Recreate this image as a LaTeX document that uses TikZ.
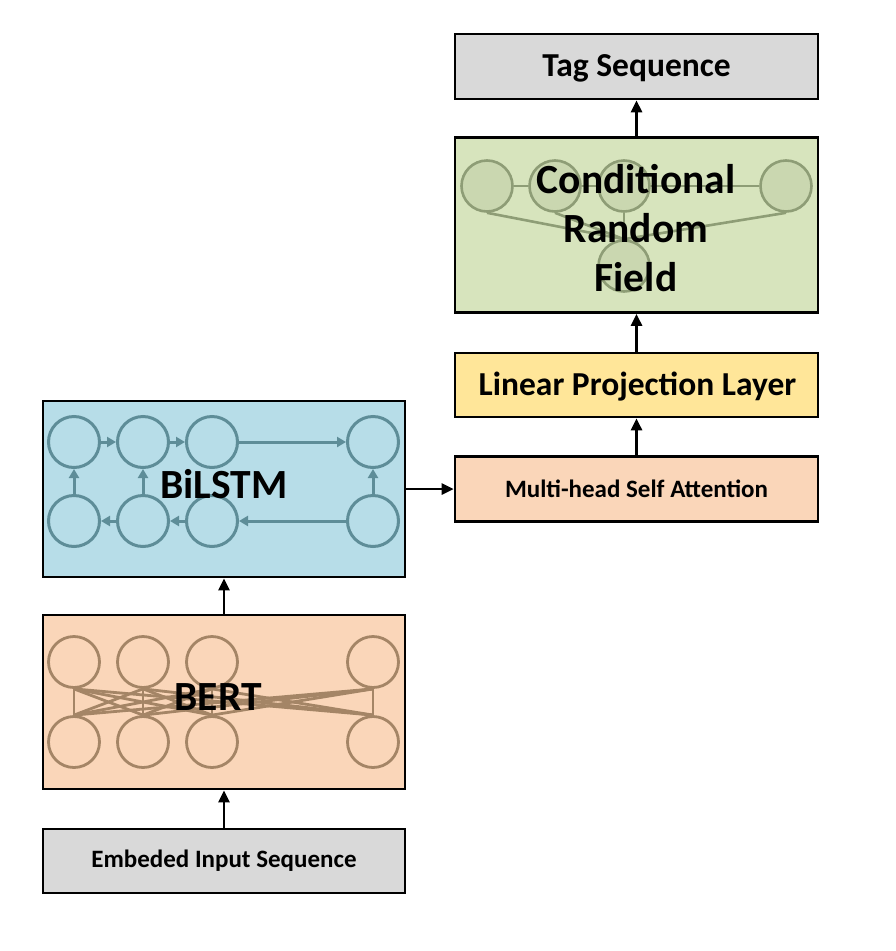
\documentclass[tikz,border=0pt]{standalone}
\usepackage{fontspec}
\setmainfont{Carlito}
\usetikzlibrary{arrows.meta}
\definecolor{greybox}{HTML}{D9D9D9}
\definecolor{yellowbox}{HTML}{FFE699}
\definecolor{peachbox}{HTML}{FAD6B9}
\definecolor{bluebox}{HTML}{B7DDE8}
\definecolor{greenbox}{HTML}{D7E4BD}
\definecolor{lstmline}{HTML}{5E8D98}
\definecolor{bertline}{HTML}{A48566}
\definecolor{crfline}{HTML}{8E9D76}
\definecolor{crffill}{HTML}{C6D3AC}
\tikzset{
  block/.style={draw=black, line width=2.6pt, minimum width=363pt, inner sep=0pt, font=\bfseries},
  flow/.style={line width=2.6pt, -{Triangle[length=12pt,width=11pt]}},
  lstmc/.style={circle, draw=lstmline, line width=3pt, minimum size=51pt, inner sep=0pt},
  lstma/.style={draw=lstmline, line width=3pt, -{Triangle[length=9pt,width=10pt]}, color=lstmline},
  bertc/.style={circle, draw=bertline, line width=2.8pt, minimum size=51pt, inner sep=0pt},
  bertl/.style={draw=bertline, line width=2.8pt},
  crfc/.style={circle, draw=crfline, fill=crffill, fill opacity=0.75, line width=2.6pt, minimum size=51pt, inner sep=0pt},
  crfl/.style={draw=crfline, line width=2.6pt},
  bigtxt/.style={font=\bfseries\fontsize{41.5}{49}\selectfont, align=center, inner sep=0pt}
}
\begin{document}
\begin{tikzpicture}[x=1pt,y=-1pt]
\useasboundingbox (0,0) rectangle (896,951);
% right column
\node[block, fill=greybox, minimum height=65pt] (tag) at (636.5,66.5) {};
\node[font=\bfseries\fontsize{33.5}{40}\selectfont, inner sep=0pt] (tagtxt) at (636.5,68) {Tag Sequence};
\node[block, fill=greenbox, minimum height=175pt] (crf) at (636.5,225) {};
\node[block, fill=yellowbox, minimum height=64pt] (lin) at (636.5,385) {};
\node[font=\bfseries\fontsize{33.5}{40}\selectfont, inner sep=0pt] (lintxt) at (637.5,386.5) {Linear Projection Layer};
\node[block, fill=peachbox, minimum height=65pt, font=\bfseries\fontsize{25}{30}\selectfont] (mha) at (636.5,489) {Multi-head Self Attention};
% left column
\node[block, fill=bluebox, minimum width=362pt, minimum height=176pt] (lstm) at (224,489) {};
\node[block, fill=peachbox, minimum width=362pt, minimum height=174pt] (bert) at (224,702) {};
\node[block, fill=greybox, minimum width=362pt, minimum height=64pt, font=\bfseries\fontsize{25}{30}\selectfont] (emb) at (224,861) {Embeded Input Sequence};

% CRF graph
\node[crfc] (f1) at (487,186) {};
\node[crfc] (f2) at (555,186) {};
\node[crfc] (f3) at (624,186) {};
\node[crfc] (f4) at (786,186) {};
\node[crfc] (f5) at (624,266) {};
\draw[crfl] (f1.east) -- (f2.west);
\draw[crfl] (f2.east) -- (f3.west);
\draw[crfl] (f3.east) -- (f4.west);
\draw[crfl] (f1.south) -- (f5.north);
\draw[crfl] (f2.south) -- (f5.north);
\draw[crfl] (f3.south) -- (f5.north);
\draw[crfl] (f4.south) -- (f5.north);
\node[bigtxt] (crftxt) at (636,228) {Conditional\\Random\\Field};

% BiLSTM graph
\foreach \i/\x in {1/74,2/143,3/212,4/373}{
  \node[lstmc] (t\i) at (\x,442) {};
  \node[lstmc] (b\i) at (\x,521) {};
}
\draw[lstma] (t1) -- (t2);
\draw[lstma] (t2) -- (t3);
\draw[lstma] (t3) -- (t4);
\draw[lstma] (b4) -- (b3);
\draw[lstma] (b3) -- (b2);
\draw[lstma] (b2) -- (b1);
\draw[lstma] (b1) -- (t1);
\draw[lstma] (b2) -- (t2);
\draw[lstma] (b4) -- (t4);
\node[bigtxt] (lstmtxt) at (224,484) {BiLSTM};

% BERT graph
\foreach \i/\x in {1/74,2/143,3/212,4/373}{
  \node[bertc] (u\i) at (\x,662) {};
  \node[bertc] (d\i) at (\x,742) {};
}
\foreach \i in {1,2,3,4}{
  \foreach \j in {1,2,3,4}{
    \draw[bertl] (u\i.south) -- (d\j.north);
  }
}
\node[bigtxt] (berttxt) at (218,697) {BERT};

% flow arrows
\draw[flow] (emb) -- (bert);
\draw[flow] (bert) -- (lstm);
\draw[flow] (lstm.east) -- (mha.west);
\draw[flow] (mha) -- (lin);
\draw[flow] (lin) -- (crf);
\draw[flow] (crf) -- (tag);
\end{tikzpicture}
\end{document}
